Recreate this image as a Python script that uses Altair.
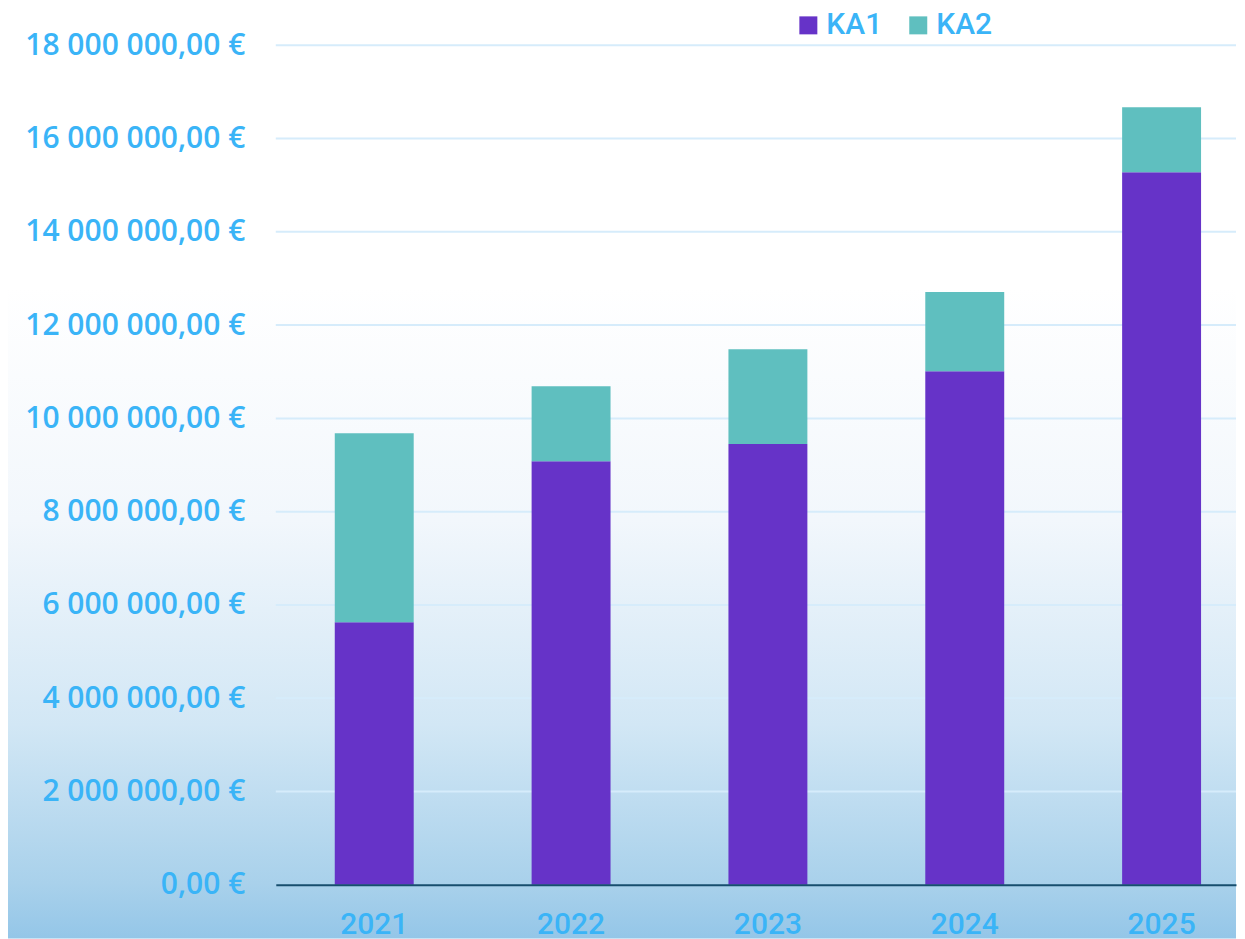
import altair as alt
import pandas as pd

years = ["2021", "2022", "2023", "2024", "2025"]
ka1 = [5630000, 9080000, 9450000, 11010000, 15280000]
ka2 = [4050000, 1610000, 2030000, 1700000, 1390000]
series = ["KA1", "KA2"]
colors = ["#6633c8", "#5fbfbf"]
y_ticks = [0, 2000000, 4000000, 6000000, 8000000, 10000000, 12000000, 14000000, 16000000, 18000000]

rows = []
for i, yr in enumerate(years):
    rows.append({"year": yr, "series": "KA1", "value": ka1[i], "ord": 0})
    rows.append({"year": yr, "series": "KA2", "value": ka2[i], "ord": 1})
df = pd.DataFrame(rows)
grid_df = pd.DataFrame({"value": y_ticks[1:]})

W, H = 961, 840
blue = "#3ab4f7"

bg = alt.Chart(alt.Data(values=[{"a": 1}])).mark_rect(
    color=alt.Gradient(
        gradient="linear",
        stops=[
            alt.GradientStop(color="#ffffff", offset=0),
            alt.GradientStop(color="#ffffff", offset=0.3),
            alt.GradientStop(color="#f2f7fc", offset=0.55),
            alt.GradientStop(color="#d2e7f5", offset=0.77),
            alt.GradientStop(color="#a9d1eb", offset=0.94),
            alt.GradientStop(color="#94c6e8", offset=1),
        ],
        x1=0, x2=0, y1=0, y2=1,
    )
).encode(
    x=alt.value(-268), x2=alt.value(W), y=alt.value(-37), y2=alt.value(894)
)

yscale = alt.Scale(domain=[0, 18000000], nice=False)
yaxis = alt.Axis(title=None, values=y_ticks, ticks=False, domain=False, grid=False,
                 labelExpr="replace(replace(format(datum.value, ',.2f'), regexp(',', 'g'), ' '), '.', ',') + ' €'",
                 labelFontSize=30, labelFont="Open Sans", labelFontWeight=600, labelLimit=400,
                 labelColor=blue, labelPadding=31, labelBaseline="middle", zindex=1)

grid = alt.Chart(grid_df).mark_rule(color="#d6ecfb", strokeWidth=2).encode(
    y=alt.Y("value:Q", scale=yscale, axis=yaxis)
)

bars = alt.Chart(df).mark_bar().encode(
    x=alt.X("year:N", sort=years,
            scale=alt.Scale(paddingInner=0.599, paddingOuter=0.2386, align=0.628),
            axis=alt.Axis(title=None, labelAngle=0, ticks=False, grid=False,
                          labelFontSize=30, labelFont="Roboto", labelFontWeight=500,
                          labelColor=blue, labelPadding=25, zindex=1,
                          domainColor="#174e6e", domainWidth=2)),
    y=alt.Y("value:Q", stack="zero", scale=yscale, axis=yaxis),
    color=alt.Color("series:N", scale=alt.Scale(domain=series, range=colors),
                    legend=alt.Legend(title=None, orient="none", legendX=518, legendY=-35,
                                      direction="horizontal", symbolType="square",
                                      symbolSize=324, symbolStrokeWidth=0,
                                      labelFontSize=30, labelFont="Roboto", labelFontWeight=500,
                                      labelColor=blue, labelOffset=3, columnPadding=21,
                                      padding=0, zindex=1)),
    order=alt.Order("ord:Q"),
)

chart = alt.layer(bg, grid, bars).properties(width=W, height=H, padding=0).configure_view(stroke=None)

chart.save("out.html", embed_options={"renderer": "svg", "actions": False})
